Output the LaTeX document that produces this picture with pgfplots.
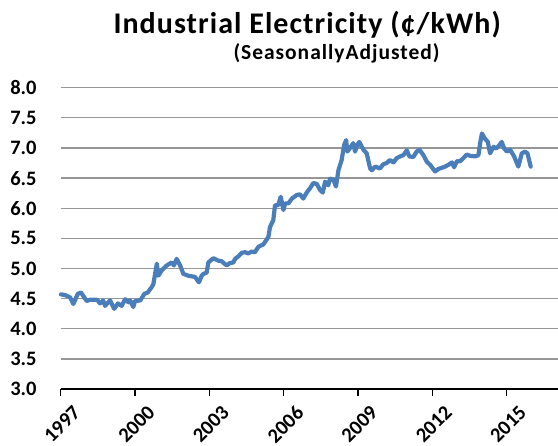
\documentclass[border=0pt]{standalone}
\usepackage{pgfplots}
\pgfplotsset{compat=1.18}
\usepackage{fontspec}
\setmainfont{Carlito}
\definecolor{lineblue}{RGB}{74,126,187}
\definecolor{gridgray}{RGB}{150,150,150}
\begin{document}
\begin{tikzpicture}
\useasboundingbox (0pt,0pt) rectangle (558pt,446pt);
\clip (0pt,0pt) rectangle (558pt,446pt);
\begin{axis}[
  at={(60.7pt,57pt)}, anchor=south west,
  scale only axis, width=498pt, height=301.3pt,
  xmin=1997, xmax=2017.1, ymin=3, ymax=8,
  axis x line*=bottom, axis y line*=left,
  y axis line style={draw=none},
  x axis line style={black, line width=2.6pt, -},
  xtick={1997,2000,2003,2006,2009,2012,2015},
  xticklabels={1997,2000,2003,2006,2009,2012,2015},
  ytick={3,3.5,4,4.5,5,5.5,6,6.5,7,7.5,8},
  ymajorgrids, grid style={gridgray, line width=1.3pt},
  tick align=outside,
  xtick style={black, line width=1.5pt},
  major tick length=7pt,
  ytick style={draw=none},
  tick label style={font=\fontsize{20.5}{20.5}\selectfont\bfseries},
  /pgf/number format/.cd, fixed, fixed zerofill, precision=1, assume math mode=true,
  /pgfplots/.cd,
  yticklabel style={anchor=east, inner sep=0pt, xshift=-17pt},
  xticklabel style={rotate=45, anchor=north east, inner sep=0pt, xshift=2pt, yshift=-14pt},
  clip=false,
]
\addplot[lineblue, line width=4.2pt, line join=round, line cap=round] coordinates {
(1997.01,4.57) (1997.17,4.56) (1997.38,4.52) (1997.51,4.41) (1997.69,4.58) (1997.82,4.60)
(1998.05,4.46) (1998.18,4.48) (1998.47,4.48) (1998.59,4.42) (1998.71,4.47) (1998.79,4.38)
(1998.99,4.47) (1999.16,4.33) (1999.31,4.42) (1999.46,4.38) (1999.60,4.49) (1999.73,4.44)
(1999.80,4.47) (1999.93,4.36) (2000.00,4.46) (2000.21,4.47) (2000.38,4.58) (2000.51,4.60)
(2000.67,4.69) (2000.74,4.74) (2000.88,5.08) (2000.94,4.88) (2001.08,4.97) (2001.28,5.05)
(2001.48,5.10) (2001.57,5.05) (2001.68,5.16) (2001.82,5.05) (2001.95,4.91) (2002.15,4.88)
(2002.42,4.86) (2002.58,4.77) (2002.69,4.88) (2002.76,4.91) (2002.89,4.93) (2002.96,5.10)
(2003.16,5.17) (2003.36,5.13) (2003.50,5.12) (2003.55,5.10) (2003.70,5.05) (2003.83,5.09)
(2003.97,5.10) (2004.04,5.16) (2004.17,5.20) (2004.31,5.26) (2004.44,5.27) (2004.57,5.25)
(2004.71,5.28) (2004.84,5.27) (2004.98,5.36) (2005.18,5.40) (2005.38,5.52) (2005.45,5.69)
(2005.58,5.80) (2005.65,6.05) (2005.78,6.05) (2005.88,6.19) (2005.99,5.97) (2006.06,6.08)
(2006.19,6.08) (2006.33,6.16) (2006.53,6.22) (2006.66,6.23) (2006.79,6.16) (2006.93,6.26)
(2007.06,6.33) (2007.20,6.42) (2007.34,6.40) (2007.47,6.30) (2007.58,6.26) (2007.67,6.44)
(2007.80,6.38) (2007.87,6.49) (2008.01,6.47) (2008.11,6.36) (2008.21,6.63) (2008.34,6.80)
(2008.44,7.05) (2008.52,7.13) (2008.57,6.94) (2008.68,7.00) (2008.81,7.08) (2008.88,6.94)
(2008.97,7.05) (2009.05,7.10) (2009.22,6.97) (2009.35,6.91) (2009.49,6.66) (2009.56,6.63)
(2009.69,6.69) (2009.76,6.68) (2009.89,6.66) (2010.02,6.73) (2010.16,6.75) (2010.29,6.80)
(2010.43,6.76) (2010.56,6.83) (2010.70,6.86) (2010.83,6.88) (2010.97,6.96) (2011.07,6.86)
(2011.23,6.85) (2011.37,6.94) (2011.48,6.97) (2011.64,6.88) (2011.78,6.77) (2011.91,6.72)
(2012.11,6.61) (2012.24,6.65) (2012.38,6.67) (2012.51,6.69) (2012.65,6.72) (2012.79,6.76)
(2012.88,6.68) (2012.99,6.78) (2013.12,6.78) (2013.25,6.83) (2013.39,6.89) (2013.52,6.87)
(2013.73,6.86) (2013.86,6.88) (2013.93,7.08) (2014.00,7.24) (2014.13,7.15) (2014.24,7.10)
(2014.33,6.91) (2014.47,7.02) (2014.58,6.99) (2014.71,7.05) (2014.80,7.10) (2014.90,6.99)
(2015.01,6.94) (2015.14,6.97) (2015.30,6.86) (2015.47,6.69) (2015.61,6.91) (2015.74,6.94)
(2015.84,6.91) (2015.97,6.69)
};
\end{axis}
\node[anchor=base west, inner sep=0pt, font=\fontsize{30}{30}\selectfont\bfseries\addfontfeature{LetterSpace=3.5}] at (113.3pt,412.7pt) {Industrial Electricity (¢/kWh)};
\node[anchor=base west, inner sep=0pt, font=\fontsize{21.5}{21.5}\selectfont\bfseries\addfontfeature{LetterSpace=4.5}] at (233.3pt,386pt) {(Seasonally\hspace{0.05em}Adjusted)};
\end{tikzpicture}
\end{document}
